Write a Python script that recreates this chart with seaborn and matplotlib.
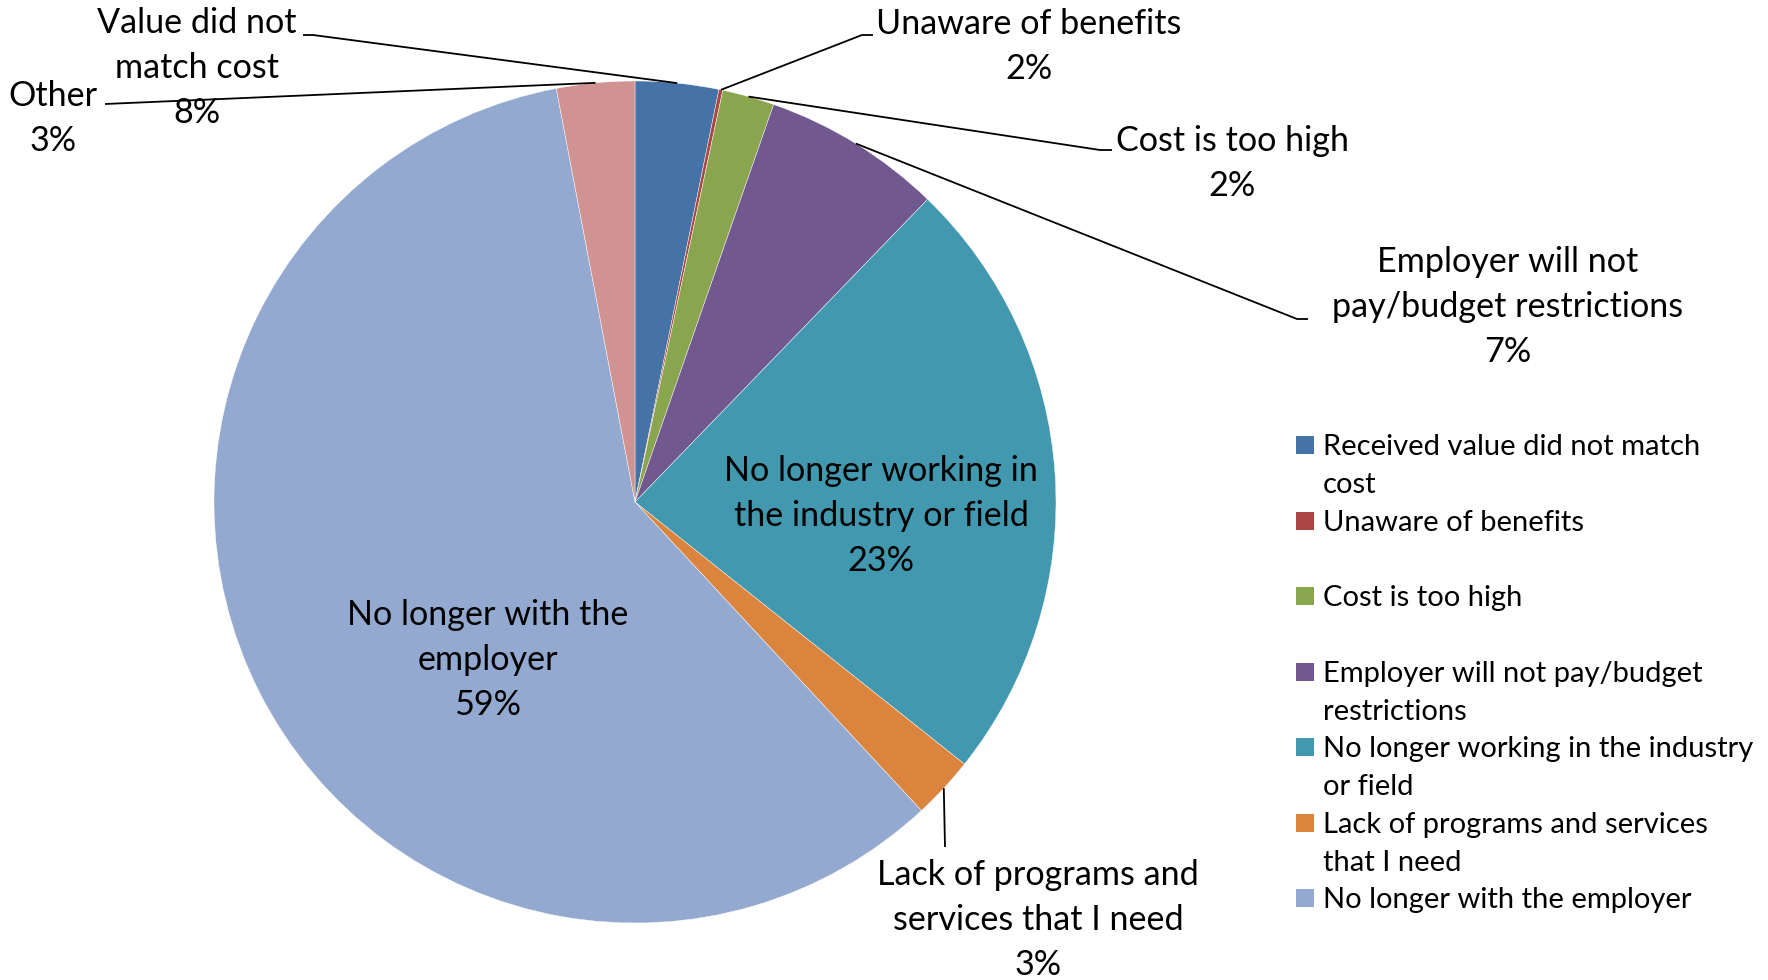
import numpy as np
import matplotlib
matplotlib.use("Agg")
import matplotlib.pyplot as plt
from matplotlib.patches import Rectangle
import seaborn as sns

# ---------------- data ----------------
categories = [
    "Received value did not match cost",
    "Unaware of benefits",
    "Cost is too high",
    "Employer will not pay/budget restrictions",
    "No longer working in the industry or field",
    "Lack of programs and services that I need",
    "No longer with the employer",
    "Other",
]
values = [3.2, 0.15, 2.0, 6.9, 23.5, 2.4, 59.0, 3.0]
pct_labels = ["8%", "2%", "2%", "7%", "23%", "3%", "59%", "3%"]
slice_labels = [
    "Value did not\nmatch cost",
    "Unaware of benefits",
    "Cost is too high",
    "Employer will not\npay/budget restrictions",
    "No longer working in\nthe industry or field",
    "Lack of programs and\nservices that I need",
    "No longer with the\nemployer",
    "Other",
]
legend_labels = [
    "Received value did not match\ncost",
    "Unaware of benefits",
    "Cost is too high",
    "Employer will not pay/budget\nrestrictions",
    "No longer working in the industry\nor field",
    "Lack of programs and services\nthat I need",
    "No longer with the employer",
]
colors = ["#4572A7", "#AA4643", "#89A54E", "#71588F",
          "#4198AF", "#DB843D", "#93A9CF", "#D19392"]

# ---------------- style ----------------
sns.set_style("white")
plt.rcParams["font.family"] = ["Lato", "DejaVu Sans"]
palette = sns.color_palette(colors)

W, H = 1768, 980
fig = plt.figure(figsize=(W / 100, H / 100), dpi=100)
fig.patch.set_facecolor("white")

cx, cy, r = 635, 502, 421
ax = fig.add_axes([(cx - r) / W, (H - cy - r) / H, 2 * r / W, 2 * r / H])
wedges, _ = ax.pie(values, colors=palette, startangle=90, counterclock=False,
                   radius=1, wedgeprops=dict(linewidth=0.3, edgecolor="white"))
ax.set_xlim(-1, 1)
ax.set_ylim(-1, 1)
ax.axis("off")


def to_data(px, py):
    return (px - cx) / r, (cy - py) / r


def fig_xy(px, py):
    return px / W, 1 - py / H


LABEL_FS = 24.6
LABEL_LS = 45
LABEL_CAP = 12.2

# label block centres (pixel coords)
label_pos = [(197, 66), (1029, 44), (1232, 161), (1508, 305),
             (881, 514), (1038, 918), (488, 658), (53, 116)]
for i, (lab, pct) in enumerate(zip(slice_labels, pct_labels)):
    lines = lab.split("\n") + [pct]
    x0, y0 = label_pos[i]
    n = len(lines)
    for j, line in enumerate(lines):
        yc = y0 + (j - (n - 1) / 2) * LABEL_LS
        fx, fy = fig_xy(x0, yc + LABEL_CAP)
        fig.text(fx, fy, line, ha="center", va="baseline",
                 fontsize=LABEL_FS, color="black")

# leader lines: anchor path near label -> mid arc of wedge
leader_paths = {
    0: [(303, 35), (313, 35)],
    7: [(105, 104)],
    1: [(873, 35), (862, 35)],
    2: [(1112, 150), (1100, 150)],
    3: [(1308, 319), (1297, 319)],
    5: [(945, 847)],
}
for i, pts in leader_paths.items():
    w = wedges[i]
    th = np.deg2rad((w.theta1 + w.theta2) / 2)
    xs = [to_data(*p)[0] for p in pts] + [np.cos(th)]
    ys = [to_data(*p)[1] for p in pts] + [np.sin(th)]
    ax.plot(xs, ys, color="black", lw=1.3, clip_on=False,
            solid_capstyle="butt")

# legend (no "Other")
LEG_FS = 21
leg_x_sq, leg_x_txt = 1296, 1323
leg_y0, leg_step, leg_ls, leg_cap = 445, 75.5, 38, 10.4
for i, lab in enumerate(legend_labels):
    y = leg_y0 + i * leg_step
    fx, fy = fig_xy(leg_x_sq, y + 9)
    fig.patches.append(Rectangle((fx, fy), 18 / W, 18 / H,
                                 transform=fig.transFigure,
                                 facecolor=palette[i], edgecolor="none"))
    for j, line in enumerate(lab.split("\n")):
        fx, fy = fig_xy(leg_x_txt, y + j * leg_ls + leg_cap)
        fig.text(fx, fy, line, ha="left", va="baseline",
                 fontsize=LEG_FS, color="black")

fig.savefig("out.png", dpi=100, facecolor="white")
